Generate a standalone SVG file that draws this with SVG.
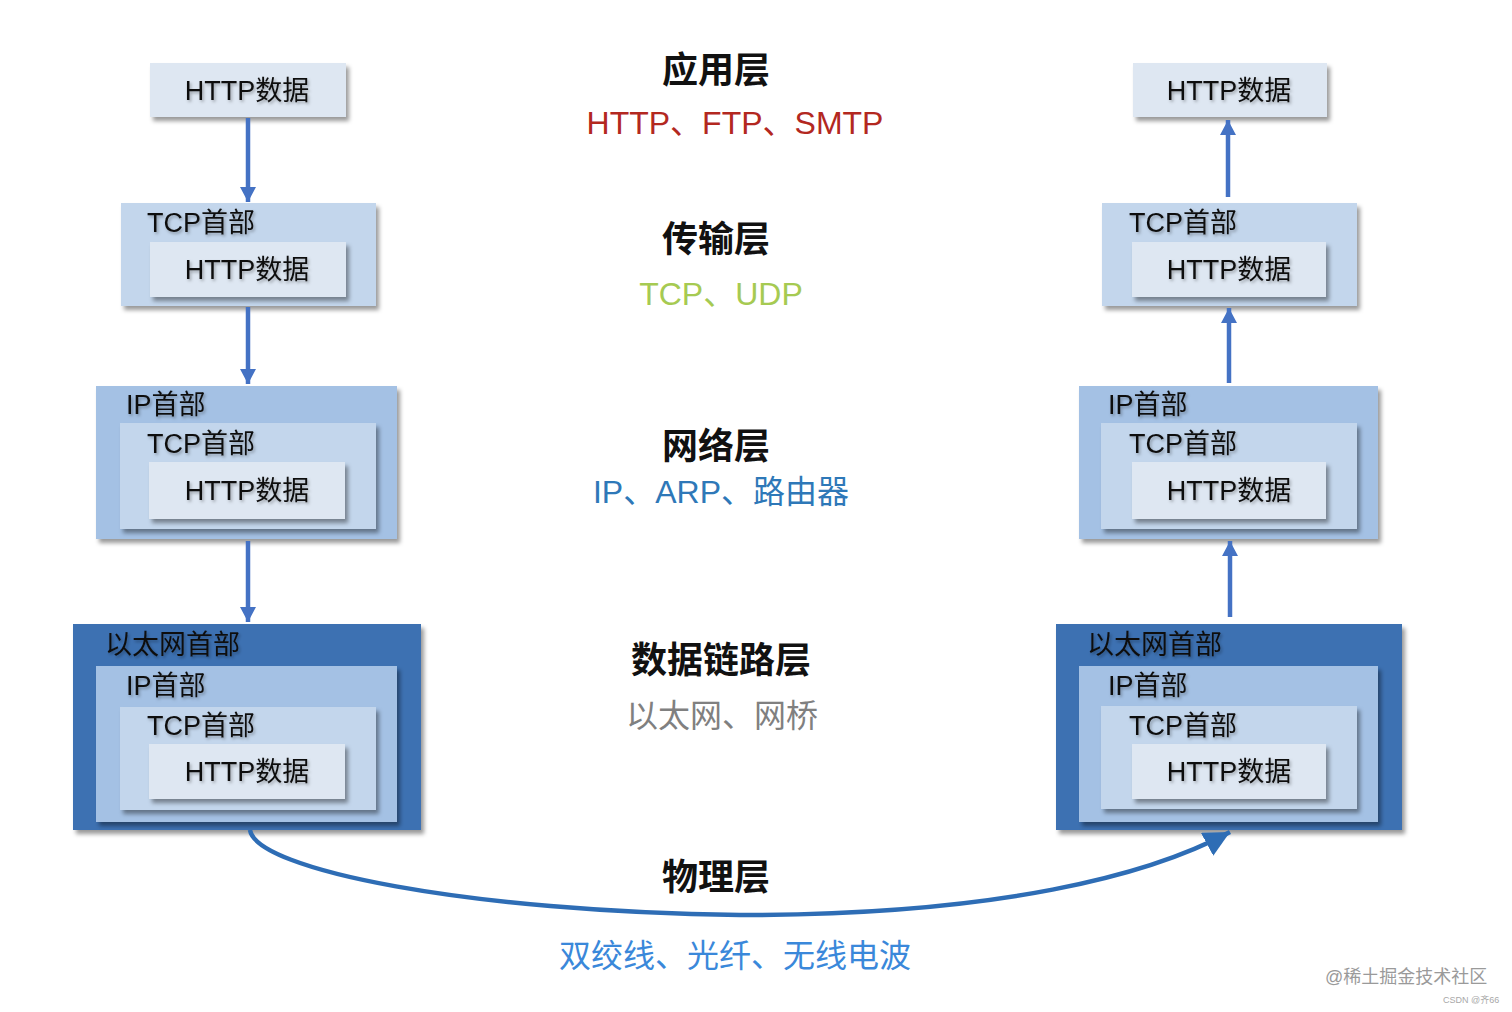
<svg xmlns="http://www.w3.org/2000/svg" width="1512" height="1012" viewBox="0 0 1512 1012">
<defs>
<style>
text{font-family:"Liberation Sans","Noto Sans CJK SC",sans-serif;}
.eth{fill:#3d71b2;}
.ip{fill:#a4c1e4;}
.tcp{fill:#c3d6ec;}
.http{fill:#dee7f2;}
.box{filter:url(#sh);}
.lbl{font-size:27px;fill:#111;filter:url(#tsh);}
.ctr{text-anchor:middle;}
.title{font-size:36px;font-weight:bold;fill:#111;text-anchor:middle;}
.sub{font-size:32px;text-anchor:middle;}
.arr{stroke:#4472c4;stroke-width:4.5;fill:none;}
</style>
<filter id="sh" x="-10%" y="-10%" width="125%" height="130%">
<feDropShadow dx="3" dy="4" stdDeviation="2" flood-color="#000" flood-opacity="0.4"/>
</filter>
<filter id="tsh" x="-10%" y="-20%" width="125%" height="150%">
<feDropShadow dx="1.5" dy="2" stdDeviation="1.5" flood-color="#000" flood-opacity="0.3"/>
</filter>
<marker id="ah" markerUnits="userSpaceOnUse" markerWidth="16" markerHeight="16" refX="15" refY="8" orient="auto">
<path d="M0,0 L15,8 L0,16 Z" fill="#4472c4"/>
</marker>
<marker id="ah2" markerUnits="userSpaceOnUse" markerWidth="28" markerHeight="26" refX="26" refY="13" orient="auto">
<path d="M0,0 L26,13 L0,26 Z" fill="#2e6db5"/>
</marker>
</defs>
<rect width="1512" height="1012" fill="#ffffff"/>

<!-- LEFT COLUMN -->
<g id="left-http">
<rect class="http box" x="150" y="63" width="196" height="54"/>
<text class="lbl ctr" x="247" y="100">HTTP数据</text>
</g>
<g id="left-tcp">
<rect class="tcp box" x="121" y="203" width="255" height="103"/>
<text class="lbl" x="147" y="232">TCP首部</text>
<rect class="http box" x="150" y="242" width="196" height="55"/>
<text class="lbl ctr" x="247" y="279">HTTP数据</text>
</g>
<g id="left-ip">
<rect class="ip box" x="96" y="386" width="301" height="153"/>
<text class="lbl" x="126" y="414">IP首部</text>
<rect class="tcp box" x="120" y="423" width="256" height="106"/>
<text class="lbl" x="147" y="453">TCP首部</text>
<rect class="http box" x="149" y="462" width="196" height="57"/>
<text class="lbl ctr" x="247" y="500">HTTP数据</text>
</g>
<g id="left-eth">
<rect class="eth box" x="73" y="624" width="348" height="206"/>
<text class="lbl" x="105" y="654">以太网首部</text>
<rect class="ip box" x="96" y="666" width="301" height="156"/>
<text class="lbl" x="126" y="695">IP首部</text>
<rect class="tcp box" x="120" y="707" width="256" height="103"/>
<text class="lbl" x="147" y="735">TCP首部</text>
<rect class="http box" x="149" y="744" width="196" height="55"/>
<text class="lbl ctr" x="247" y="781">HTTP数据</text>
</g>

<!-- RIGHT COLUMN -->
<g id="right-http">
<rect class="http box" x="1133" y="63" width="194" height="54"/>
<text class="lbl ctr" x="1229" y="100">HTTP数据</text>
</g>
<g id="right-tcp">
<rect class="tcp box" x="1102" y="203" width="255" height="103"/>
<text class="lbl" x="1129" y="232">TCP首部</text>
<rect class="http box" x="1132" y="242" width="194" height="55"/>
<text class="lbl ctr" x="1229" y="279">HTTP数据</text>
</g>
<g id="right-ip">
<rect class="ip box" x="1079" y="386" width="299" height="153"/>
<text class="lbl" x="1108" y="414">IP首部</text>
<rect class="tcp box" x="1101" y="423" width="256" height="106"/>
<text class="lbl" x="1129" y="453">TCP首部</text>
<rect class="http box" x="1132" y="462" width="194" height="57"/>
<text class="lbl ctr" x="1229" y="500">HTTP数据</text>
</g>
<g id="right-eth">
<rect class="eth box" x="1056" y="624" width="346" height="206"/>
<text class="lbl" x="1087" y="654">以太网首部</text>
<rect class="ip box" x="1079" y="666" width="299" height="156"/>
<text class="lbl" x="1108" y="695">IP首部</text>
<rect class="tcp box" x="1101" y="706" width="256" height="103"/>
<text class="lbl" x="1129" y="735">TCP首部</text>
<rect class="http box" x="1132" y="744" width="194" height="55"/>
<text class="lbl ctr" x="1229" y="781">HTTP数据</text>
</g>

<!-- CONNECTORS -->
<g id="connectors">
<line class="arr" x1="248" y1="118" x2="248" y2="202" marker-end="url(#ah)"/>
<line class="arr" x1="248" y1="307" x2="248" y2="384" marker-end="url(#ah)"/>
<line class="arr" x1="248" y1="541" x2="248" y2="622" marker-end="url(#ah)"/>
<line class="arr" x1="1228" y1="197" x2="1228" y2="120" marker-end="url(#ah)"/>
<line class="arr" x1="1229" y1="383" x2="1229" y2="308" marker-end="url(#ah)"/>
<line class="arr" x1="1230" y1="617" x2="1230" y2="541" marker-end="url(#ah)"/>
<path d="M250,830 C256,870 470,912 740,915 C1000,915 1150,875 1230,832" fill="none" stroke="#2e6db5" stroke-width="4.5" marker-end="url(#ah2)"/>
</g>

<!-- CENTER LABELS -->
<g id="layer-app">
<text class="title" x="716" y="83">应用层</text>
<text class="sub" x="735" y="134" fill="#b3281f">HTTP、FTP、SMTP</text>
</g>
<g id="layer-transport">
<text class="title" x="716" y="252">传输层</text>
<text class="sub" x="721" y="305" fill="#a6ca52">TCP、UDP</text>
</g>
<g id="layer-network">
<text class="title" x="716" y="459">网络层</text>
<text class="sub" x="721" y="503" fill="#2e78b8">IP、ARP、路由器</text>
</g>
<g id="layer-link">
<text class="title" x="721" y="673">数据链路层</text>
<text class="sub" x="722" y="727" fill="#808080">以太网、网桥</text>
</g>
<g id="layer-physical">
<text class="title" x="716" y="890">物理层</text>
<text class="sub" x="735" y="967" fill="#3a88da">双绞线、光纤、无线电波</text>
</g>

<!-- WATERMARK -->
<text x="1325" y="983" font-size="18" fill="#9a9a9a">@稀土掘金技术社区</text>
<text x="1443" y="1003" font-size="9" fill="#a8a8a8">CSDN @齐66</text>
</svg>
